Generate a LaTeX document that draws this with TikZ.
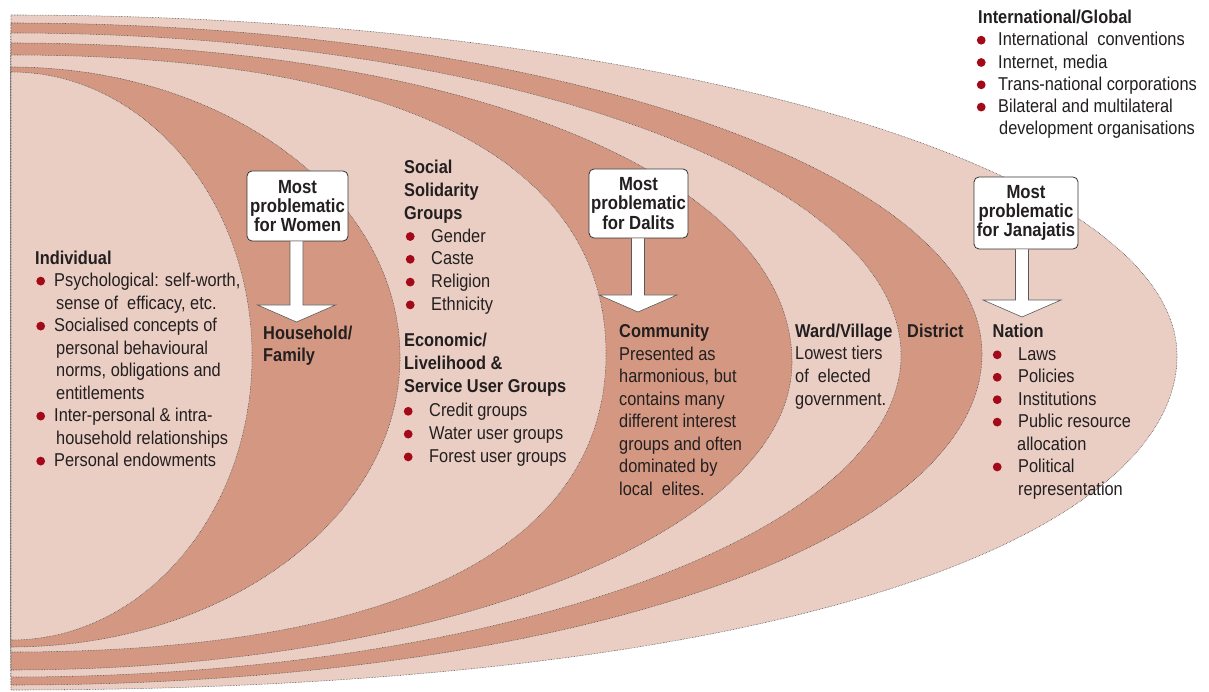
\documentclass[tikz,border=0pt]{standalone}
\usepackage{fontspec}
\setmainfont{Liberation Sans}[FakeStretch=0.88]
\usetikzlibrary{calc}

\definecolor{bandlight}{RGB}{234,206,196}
\definecolor{banddark}{RGB}{212,152,130}
\definecolor{bulred}{RGB}{163,10,25}
\definecolor{ink}{RGB}{35,31,32}

% half oval attached to the left edge x=11:
% #1 fill, #2 top y, #3 bottom y, #4 right x, #5 y of right tip,
% #6 handle of upper half, #7/#8 handles of lower half
\newcommand\band[8]{%
  \filldraw[band,fill=#1] (11,#2)
    .. controls ({11+#6*(#4-11)},#2) and (#4,{#5-#6*(#5-#2)}) .. (#4,#5)
    .. controls (#4,{#5+#7*(#3-#5)}) and ({11+#8*(#4-11)},#3) .. (11,#3) -- cycle;}

% red list bullet
\newcommand\dotb{\tikz[baseline=-5.6pt]\fill[bulred] (0,0) circle[radius=4.4pt];}
% bullet at #1 from the block edge, text #2 after the bullet centre
\newcommand\bl[2]{\hspace*{#1pt}\makebox[0pt]{\dotb}\hspace*{#2pt}}
\newcommand\ind[1]{\hspace*{#1pt}}

% wide white arrow from a box down to a tip coordinate
\newcommand\fatarrow[2]{%
  \draw[farrow] ($(#2 |- #1.south)+(-6.5,0)$) -- ($(#2)+(-6.5,-17)$)
    -- ($(#2)+(-39,-17)$) -- (#2) -- ($(#2)+(39,-17)$)
    -- ($(#2)+(6.5,-17)$) -- ($(#2 |- #1.south)+(6.5,0)$);}

% text blocks are placed by the baseline of their last line
\tikzset{
  band/.style={draw=black!75, line width=0.55pt, densely dotted},
  txt/.style={inner sep=0pt, anchor=base west, align=left, text=ink,
    font=\fontsize{18.6}{22.5}\selectfont},
  pbox/.style={draw=black!80, line width=0.8pt, fill=white, rounded corners=5pt,
    inner sep=0pt, align=center, text=ink,
    font=\bfseries\fontsize{19}{19.3}\selectfont},
  farrow/.style={draw=black!65, line width=0.6pt, fill=white},
}

\begin{document}
\begin{tikzpicture}[x=1pt,y=-1pt]
\useasboundingbox (0,0) rectangle (1209,692);
\fill[white] (0,0) rectangle (1209,692);

% nested levels, outermost first
\band{bandlight}{15}{690}{1177}{356}{0.5523}{0.50}{0.70}
\band{banddark}{23}{685}{982}{354}{0.5523}{0.56}{0.58}
\band{bandlight}{33}{677}{901}{355}{0.5523}{0.5523}{0.5523}
\band{banddark}{43}{670}{792}{362}{0.58}{0.5523}{0.5523}
\band{bandlight}{55}{652}{606}{354}{0.65}{0.65}{0.65}
\band{banddark}{67}{647}{400}{357}{0.5523}{0.5523}{0.5523}
\band{bandlight}{72}{640}{252}{356}{0.5523}{0.5523}{0.5523}

% level texts
\node[txt] (indiv) at (35,466.7) {\textbf{Individual}\\
  \bl{5.5}{13.5}Psychological: self-worth,\\
  \ind{21}sense of~ efficacy, etc.\\
  \bl{5.5}{13.5}Socialised concepts of\\
  \ind{21}personal behavioural\\
  \ind{21}norms, obligations and\\
  \ind{21}entitlements\\
  \bl{5.5}{13.5}Inter-personal \& intra-\\
  \ind{21}household relationships\\
  \bl{5.5}{13.5}Personal endowments};

\node[txt, font=\bfseries\fontsize{18.6}{22}\selectfont] (house) at (263,361.7) {Household/\\Family};

\node[txt, font=\fontsize{18.6}{22.8}\selectfont] (social) at (404,310.5) {\textbf{Social}\\\textbf{Solidarity}\\\textbf{Groups}\\
  \bl{6}{21}Gender\\
  \bl{6}{21}Caste\\
  \bl{6}{21}Religion\\
  \bl{6}{21}Ethnicity};

\node[txt, font=\fontsize{18.6}{22.8}\selectfont] (econ) at (404,462.5) {\textbf{Economic/}\\\textbf{Livelihood \&}\\\textbf{Service User Groups}\\[2pt]
  \bl{4}{21}Credit groups\\
  \bl{4}{21}Water user groups\\
  \bl{4}{21}Forest user groups};

\node[txt] (comm) at (619,495) {\textbf{Community}\\Presented as\\harmonious, but\\contains many\\different interest\\groups and often\\dominated by\\local~ elites.};

\node[txt, font=\fontsize{18.6}{22.6}\selectfont] (ward) at (795,405) {\textbf{Ward/Village}\\Lowest tiers\\of~ elected\\government.};

\node[txt] (district) at (907,337.3) {\textbf{District}};

\node[txt, font=\fontsize{18.6}{22.43}\selectfont] (nation) at (992.5,495) {\textbf{Nation}\\
  \bl{4.5}{21}Laws\\
  \bl{4.5}{21}Policies\\
  \bl{4.5}{21}Institutions\\
  \bl{4.5}{21}Public resource\\
  \ind{24.5}allocation\\
  \bl{4.5}{21}Political\\
  \ind{25.5}representation};

\node[txt, font=\fontsize{18.6}{22.3}\selectfont] (global) at (978,135) {\textbf{International/Global}\\
  \bl{3}{17}International~ conventions\\
  \bl{3}{17}Internet, media\\
  \bl{3}{17}Trans-national corporations\\
  \bl{3}{17}Bilateral and multilateral\\
  \ind{21}development organisations};

% call-out boxes and their arrows
\node[pbox, minimum width=101pt, minimum height=70pt] (bw) at (297.5,206) {Most\\problematic\\for Women};
\node[pbox, minimum width=99pt, minimum height=69pt] (bd) at (638.5,203.5) {Most\\problematic\\for Dalits};
\node[pbox, minimum width=104pt, minimum height=72pt] (bj) at (1026,213) {Most\\problematic\\for Janajatis};

\coordinate (tw) at (296.5,322);
\coordinate (td) at (638,312);
\coordinate (tj) at (1022,317);

\fatarrow{bw}{tw}
\fatarrow{bd}{td}
\fatarrow{bj}{tj}
\end{tikzpicture}
\end{document}
